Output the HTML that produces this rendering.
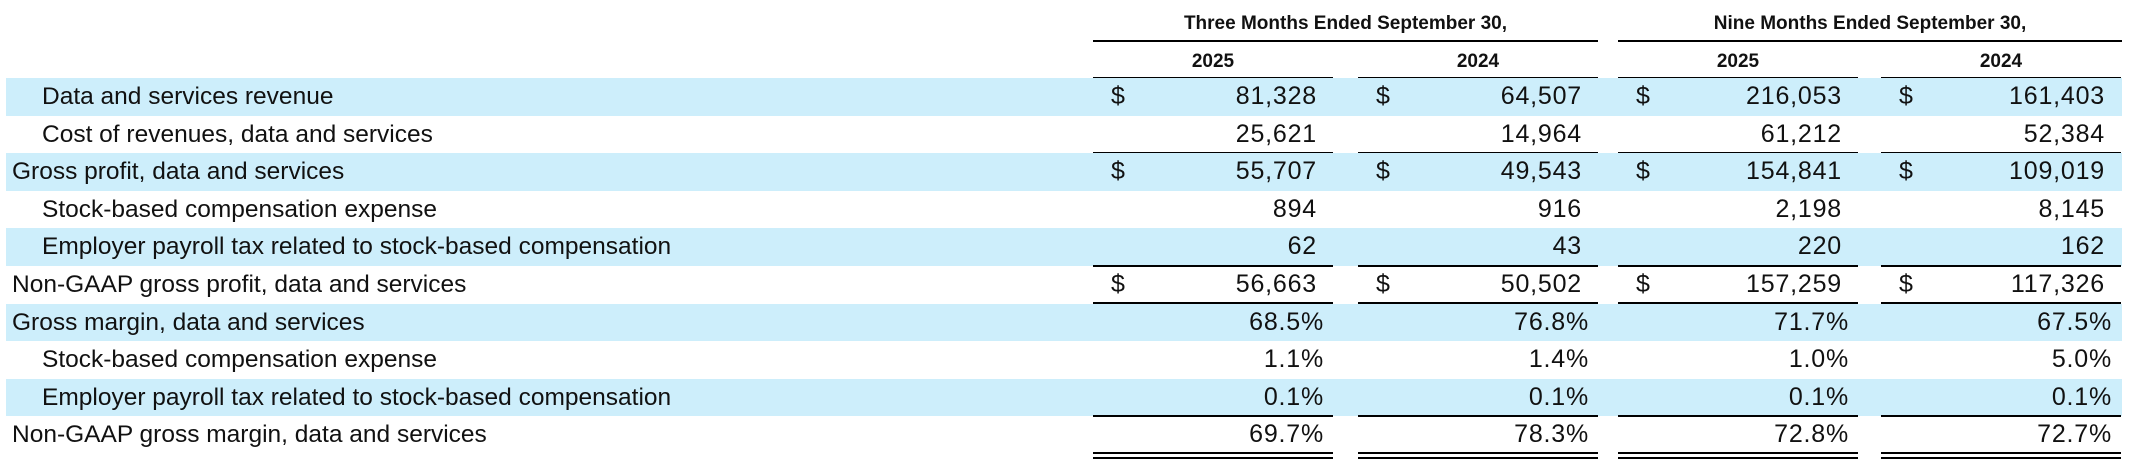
<!DOCTYPE html>
<html><head><meta charset="utf-8"><style>
*{margin:0;padding:0;box-sizing:border-box}
body{width:2129px;height:463px;background:#fff;position:relative;overflow:hidden;font-family:"Liberation Sans",sans-serif;color:#111}
.band{position:absolute;left:6px;width:2116px;background:#cdeefb}
.lbl{position:absolute;font-size:24.5px;line-height:37px;white-space:nowrap}
.num{position:absolute;font-size:25px;letter-spacing:0.8px;line-height:37px;text-align:right;white-space:nowrap}
.dol{position:absolute;font-size:25px;line-height:37px}
.ln{position:absolute;height:2px;background:#000}
.dbl{position:absolute;height:7px;border-top:2px solid #000;border-bottom:2px solid #000}
.hd{position:absolute;font-weight:bold;font-size:19px;text-align:center;white-space:nowrap}
</style></head><body>
<div class="hd" style="left:1093px;width:505px;top:13px">Three Months Ended September 30,</div>
<div class="hd" style="left:1618px;width:504px;top:13px">Nine Months Ended September 30,</div>
<div class="ln" style="left:1093px;width:505px;top:40px"></div>
<div class="ln" style="left:1618px;width:504px;top:40px"></div>
<div class="hd" style="left:1093px;width:240px;top:51px">2025</div>
<div class="hd" style="left:1358px;width:240px;top:51px">2024</div>
<div class="hd" style="left:1618px;width:240px;top:51px">2025</div>
<div class="hd" style="left:1881px;width:240px;top:51px">2024</div>
<div id="rows"></div>
<script>
var cols=[1093,1358,1618,1881],W=240;
var rows=[
["Data and services revenue",1,1,["81,328","64,507","216,053","161,403"],1,""],
["Cost of revenues, data and services",1,0,["25,621","14,964","61,212","52,384"],0,"s"],
["Gross profit, data and services",0,1,["55,707","49,543","154,841","109,019"],1,""],
["Stock-based compensation expense",1,0,["894","916","2,198","8,145"],0,""],
["Employer payroll tax related to stock-based compensation",1,1,["62","43","220","162"],0,"s"],
["Non-GAAP gross profit, data and services",0,0,["56,663","50,502","157,259","117,326"],1,"d"],
["Gross margin, data and services",0,1,["68.5%","76.8%","71.7%","67.5%"],0,""],
["Stock-based compensation expense",1,0,["1.1%","1.4%","1.0%","5.0%"],0,""],
["Employer payroll tax related to stock-based compensation",1,1,["0.1%","0.1%","0.1%","0.1%"],0,"s"],
["Non-GAAP gross margin, data and services",0,0,["69.7%","78.3%","72.8%","72.7%"],0,"d"]];
var h="",baseY=78,rh=37.6;
cols.forEach(function(c){h+='<div class="ln" style="left:'+c+'px;width:'+W+'px;top:77px"></div>';});
rows.forEach(function(r,i){
 var y=Math.round(baseY+i*rh);
 var yb=Math.round(baseY+(i+1)*rh);
 if(r[2])h+='<div class="band" style="top:'+y+'px;height:'+(yb-y)+'px"></div>';
 h+='<div class="lbl" style="left:'+(r[1]?42:12)+'px;top:'+y+'px">'+r[0]+'</div>';
 var pct=r[3][0].indexOf('%')>=0;
 cols.forEach(function(c,j){
  h+='<div class="num" style="left:'+c+'px;width:'+(W-(pct?9:16))+'px;top:'+y+'px">'+r[3][j]+'</div>';
  if(r[4])h+='<div class="dol" style="left:'+(c+18)+'px;top:'+y+'px">$</div>';
  if(r[5]=="s")h+='<div class="ln" style="left:'+c+'px;width:'+W+'px;top:'+(yb-1)+'px"></div>';
  if(r[5]=="d")h+='<div class="dbl" style="left:'+c+'px;width:'+W+'px;top:'+(yb-2)+'px"></div>';
 });
});
document.getElementById('rows').innerHTML=h;
</script>
</body></html>
